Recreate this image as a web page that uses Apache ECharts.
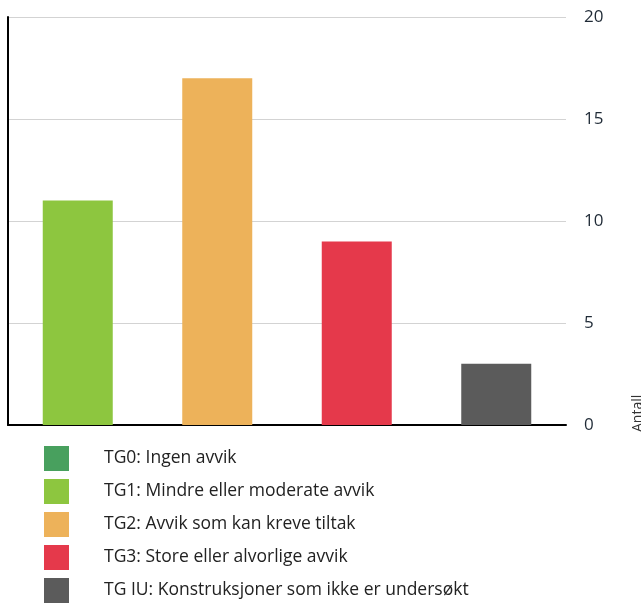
<!DOCTYPE html>
<html>
<head>
<meta charset="utf-8">
<script src="https://cdn.jsdelivr.net/npm/echarts@6/dist/echarts.min.js"></script>
<style>
  html, body { margin: 0; padding: 0; background: #fff; }
  #chart { width: 641px; height: 604px; }
</style>
</head>
<body>
<div id="chart"></div>
<script>
// kategorier (én søyle per tilstandsgrad, TG0 har ingen)
const categories = ['TG1', 'TG2', 'TG3', 'TG IU']
const legendNames = [
  'TG0: Ingen avvik',
  'TG1: Mindre eller moderate avvik',
  'TG2: Avvik som kan kreve tiltak',
  'TG3: Store eller alvorlige avvik',
  'TG IU: Konstruksjoner som ikke er undersøkt',
]
const tg0Values = ['-', '-', '-', '-']
const tg1Values = [11, '-', '-', '-']
const tg2Values = ['-', 17, '-', '-']
const tg3Values = ['-', '-', 9, '-']
const tgIuValues = ['-', '-', '-', 3]
const yTicks = [0, 5, 10, 15, 20]
const colors = ['#48a05e', '#8dc63f', '#edb25a', '#e5394b', '#5b5b5b']

const seriesValues = [tg0Values, tg1Values, tg2Values, tg3Values, tgIuValues]

const chart = echarts.init(document.getElementById('chart'))

const option = {
  animation: false,
  textStyle: { fontFamily: 'Open Sans' },
  grid: { left: 8, right: 75, top: 17, bottom: 179 },
  legend: {
    orient: 'vertical',
    left: 44,
    top: 446,
    height: 200,
    padding: 0,
    icon: 'rect',
    itemWidth: 25,
    itemHeight: 25,
    itemGap: 8,
    selectedMode: false,
    data: legendNames,
    textStyle: {
      fontFamily: 'Open Sans',
      fontSize: 17.5,
      color: '#222',
      padding: [0, 0, 0, 30],
    },
  },
  xAxis: {
    type: 'category',
    data: categories,
    axisLine: { show: true, lineStyle: { color: '#000', width: 2 } },
    axisTick: { show: false },
    axisLabel: { show: false },
  },
  yAxis: [
    {
      type: 'value',
      position: 'right',
      min: yTicks[0],
      max: yTicks[yTicks.length - 1],
      interval: 5,
      axisLine: { show: false },
      axisTick: { show: false },
      axisLabel: { color: '#1f2a36', fontSize: 17, margin: 18 },
      splitLine: { lineStyle: { color: '#d3d3d3', width: 1 } },
    },
    {
      type: 'value',
      position: 'left',
      min: 0,
      max: 20,
      axisLine: { show: true, lineStyle: { color: '#000', width: 2 } },
      axisTick: { show: false },
      axisLabel: { show: false },
      splitLine: { show: false },
    },
  ],
  graphic: [
    {
      type: 'text',
      x: 638,
      y: 432,
      rotation: Math.PI / 2,
      style: {
        text: 'Antall',
        fill: '#333',
        fontSize: 14,
        fontFamily: 'Open Sans',
        align: 'left',
        verticalAlign: 'middle',
      },
    },
  ],
  series: legendNames.map((name, i) => ({
    name: name,
    type: 'bar',
    stack: 'tg',
    barWidth: 70,
    itemStyle: { color: colors[i] },
    data: seriesValues[i],
  })),
}

chart.setOption(option)
</script>
</body>
</html>
